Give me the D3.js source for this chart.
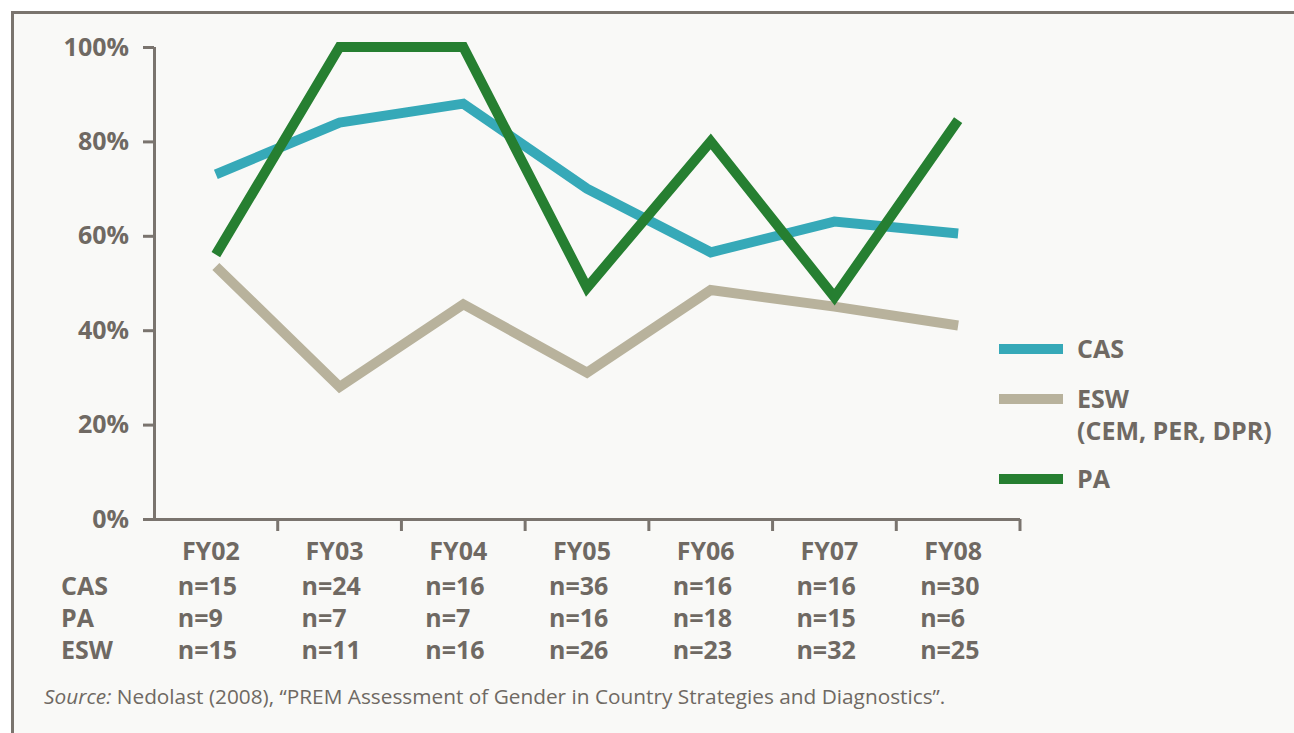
<!DOCTYPE html>
<html>
<head>
<meta charset="utf-8">
<script src="https://cdn.jsdelivr.net/npm/d3@7"></script>
<style>
  body { margin: 0; background: #fff; }
  svg { display: block; font-family: "Open Sans", "Noto Sans", sans-serif; }
</style>
</head>
<body>
<script>
const TEXT_COLOR = "#6f6963"
const AXIS_COLOR = "#7a746e"

const years = ["FY02", "FY03", "FY04", "FY05", "FY06", "FY07", "FY08"];
const cas = [73, 84, 88, 70, 56.5, 63, 60.5];
const esw = [53.5, 28, 45.5, 31, 48.5, 45, 41];
const pa = [56, 100, 100, 49, 80, 47, 84.5];
const nCAS = ["n=15", "n=24", "n=16", "n=36", "n=16", "n=16", "n=30"];
const nPA = ["n=9", "n=7", "n=7", "n=16", "n=18", "n=15", "n=6"];
const nESW = ["n=15", "n=11", "n=16", "n=26", "n=23", "n=32", "n=25"];
const yTicks = [0, 20, 40, 60, 80, 100];

const series = [
    { name: "CAS", values: cas, color: "#36a9b8" },
    { name: "ESW", values: esw, color: "#b8b29c" },
    { name: "PA", values: pa, color: "#267f31" }
];

let width = 1294, height = 733;
let svg = d3.select("body").append("svg").attr("width", width).attr("height", height);

// panel + frame
svg.append("rect").attr("x", 11).attr("y", 11).attr("width", width - 11).attr("height", height - 11).attr("fill", "#f9f9f7");
svg.append("path").attr("d", `M12.5,${height} V12.5 H${width}`).attr("fill", "none").attr("stroke", AXIS_COLOR).attr("stroke-width", 3);

let x = d3.scaleBand().domain(years).range([154, 1020]);
let y = d3.scaleLinear().domain([0, 100]).range([519, 47]);

// y axis
let yAxis = svg.append("g").attr("transform", "translate(154,0)")
    .call(d3.axisLeft(y).tickValues(yTicks).tickSize(11).tickFormat(d => d + "%"));
// x axis, ticks on the band edges
let xAxis = svg.append("g").attr("transform", "translate(0,519)")
    .call(d3.axisBottom(x).tickSize(12).tickFormat(""));
xAxis.selectAll(".tick").remove();
xAxis.selectAll("line.b").data(years).join("line").attr("class", "b")
    .attr("x1", (d, i) => x(d) + x.step()).attr("x2", (d, i) => x(d) + x.step())
    .attr("y1", 0).attr("y2", 12);
xAxis.select(".domain").attr("d", `M143,0.5 H1020`);
yAxis.select(".domain").attr("d", "M0.5,47 V519");

svg.selectAll(".domain, .tick line, line.b").attr("stroke", AXIS_COLOR).attr("stroke-width", 3);
yAxis.selectAll(".tick text").attr("fill", TEXT_COLOR).attr("font-size", 25).attr("font-weight", "bold")
    .attr("font-family", "'Open Sans', sans-serif").attr("x", -25);

// lines
let line = d3.line().x((d, i) => x(years[i]) + x.bandwidth() / 2).y(d => y(d));
svg.append("g").selectAll("path").data(series).join("path")
    .attr("d", d => line(d.values))
    .attr("fill", "none").attr("stroke", d => d.color).attr("stroke-width", 10)
    .attr("stroke-linejoin", "miter").attr("stroke-linecap", "butt");

// category table
let rows = [
    { label: "", values: years, y: 551 },
    { label: "CAS", values: nCAS, y: 586 },
    { label: "PA", values: nPA, y: 618 },
    { label: "ESW", values: nESW, y: 650 }
];
let tbl = svg.append("g").attr("fill", TEXT_COLOR).attr("font-size", 25).attr("font-weight", "bold");
rows.forEach(r => {
    tbl.append("text").attr("x", 61).attr("y", r.y).attr("dy", "0.35em").text(r.label);
    tbl.selectAll(null).data(r.values).join("text")
        .attr("x", (d, i) => x(years[i]) + x.bandwidth() / 2 - 38)
        .attr("y", r.y).attr("dy", "0.35em")
        .text(d => d);
});
// FY labels are centered
tbl.selectAll("text").filter(d => years.includes(d))
    .attr("x", d => x(d) + x.bandwidth() / 2 - 5).attr("text-anchor", "middle");

// legend
let legend = [
    { s: series[0], y: 349, lines: ["CAS"] },
    { s: series[1], y: 399, lines: ["ESW", "(CEM, PER, DPR)"] },
    { s: series[2], y: 479, lines: ["PA"] }
];
let lg = svg.append("g");
legend.forEach(l => {
    lg.append("line").attr("x1", 999).attr("x2", 1063).attr("y1", l.y).attr("y2", l.y)
        .attr("stroke", l.s.color).attr("stroke-width", 10);
    l.lines.forEach((t, i) => {
        lg.append("text").attr("x", 1077).attr("y", l.y + i * 32).attr("dy", "0.35em")
            .attr("fill", TEXT_COLOR).attr("font-size", 25).attr("font-weight", "bold").text(t);
    });
});

// source
let src = svg.append("text").attr("x", 44).attr("y", 704).attr("fill", TEXT_COLOR).attr("font-size", 20.8);
src.append("tspan").attr("font-style", "italic").text("Source:");
src.append("tspan").text(" Nedolast (2008), \u201cPREM Assessment of Gender in Country Strategies and Diagnostics\u201d.");
</script>
</body>
</html>
